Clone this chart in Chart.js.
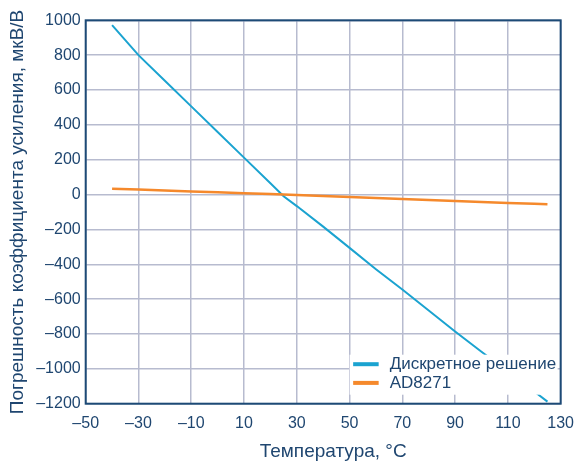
<!DOCTYPE html>
<html>
<head>
<meta charset="utf-8">
<script src="https://cdn.jsdelivr.net/npm/chart.js@4/dist/chart.umd.min.js"></script>
<style>
  html, body { margin: 0; padding: 0; background: #ffffff; }
  #wrap { width: 584px; height: 462px; }
</style>
</head>
<body>
<div id="wrap"><canvas id="chart" width="584" height="462"></canvas></div>
<script>
// Temperature points, °C
const temperatures = [-40, -30, -20, -10, 0, 10, 20, 25, 30, 40, 50, 60, 70, 80, 90, 100, 110, 120, 125];
// Gain error, µV/V
const discreteError = [972, 800, 653, 506, 359, 212, 65, -10, -66, -184, -306, -428, -545, -665, -786, -902, -1015, -1130, -1188];
const ad8271Error   = [34, 29, 24, 18, 13, 8, 3, 0, -3, -8, -14, -20, -25, -31, -37, -42, -48, -53, -55];

const seriesNames = ['Дискретное решение', 'AD8271'];
const xTickValues = [-50, -30, -10, 10, 30, 50, 70, 90, 110, 130];
const yTickValues = [-1200, -1000, -800, -600, -400, -200, 0, 200, 400, 600, 800, 1000];
const xTitle = 'Температура, °C';
const yTitle = 'Погрешность коэффициента усиления, мкВ/В';

const BLUE = '#1ba3d0';
const ORANGE = '#f5892c';
const NAVY = '#1d4a76';
const TEXT = '#1f4670';
const GRID = '#b7bbcf';
const FONT = "'Liberation Sans', Arial, sans-serif";

const toPoints = (vals) => temperatures.map((t, i) => ({ x: t, y: vals[i] }));
const fmt = (v) => (v < 0 ? '\u2013' + Math.abs(v) : String(v));

// Legend inside the plot area over a white box, frame around the plot, x-axis caption
const decorations = {
  id: 'decorations',
  afterDatasetsDraw(chart) {
    const { ctx, chartArea: a } = chart;
    const boxW = 208, boxH = 40;
    const bx = a.right - 3 - boxW, by = a.bottom - 9 - boxH;
    ctx.save();
    ctx.fillStyle = '#ffffff';
    ctx.fillRect(bx, by, boxW, boxH);
    const colors = [BLUE, ORANGE];
    ctx.font = '17px ' + FONT;
    ctx.textBaseline = 'middle';
    ctx.textAlign = 'left';
    seriesNames.forEach((name, i) => {
      const yy = by + 9.5 + i * 18.7;
      ctx.fillStyle = colors[i];
      ctx.fillRect(bx + 3.5, yy - 2, 25.5, 4);
      ctx.fillStyle = TEXT;
      ctx.fillText(name, bx + 40, yy + 0.5);
    });
    ctx.restore();
  },
  afterDraw(chart) {
    const { ctx, chartArea: a } = chart;
    ctx.save();
    ctx.strokeStyle = NAVY;
    ctx.lineWidth = 2;
    ctx.strokeRect(a.left, a.top, a.right - a.left, a.bottom - a.top);
    ctx.fillStyle = TEXT;
    ctx.font = '19px ' + FONT;
    ctx.textAlign = 'center';
    ctx.textBaseline = 'middle';
    ctx.fillText(xTitle, (a.left + a.right) / 2 + 10, a.bottom + 48.5);
    ctx.restore();
  }
};

new Chart(document.getElementById('chart'), {
  type: 'line',
  data: {
    datasets: [
      {
        label: seriesNames[0],
        data: toPoints(discreteError),
        borderColor: BLUE,
        borderWidth: 2,
        pointRadius: 0,
        tension: 0,
        order: 2
      },
      {
        label: seriesNames[1],
        data: toPoints(ad8271Error),
        borderColor: ORANGE,
        borderWidth: 2.5,
        pointRadius: 0,
        tension: 0,
        order: 1
      }
    ]
  },
  options: {
    responsive: false,
    animation: false,
    devicePixelRatio: 1,
    layout: { padding: { top: 20.3, right: 18.7, left: 0, bottom: 0 } },
    plugins: {
      legend: { display: false },
      tooltip: { enabled: false }
    },
    scales: {
      x: {
        type: 'linear',
        min: -50,
        max: 130,
        afterBuildTicks: (s) => { s.ticks = xTickValues.map((v) => ({ value: v })); },
        afterFit: (s) => { s.height = 58.3; },
        grid: { color: GRID, lineWidth: 1.5, drawTicks: false },
        border: { display: false },
        ticks: {
          color: TEXT,
          font: { family: FONT, size: 16 },
          padding: 10,
          maxRotation: 0,
          autoSkip: false,
          callback: (v) => fmt(v)
        },
        title: { display: false }
      },
      y: {
        type: 'linear',
        min: -1200,
        max: 1000,
        afterBuildTicks: (s) => { s.ticks = yTickValues.map((v) => ({ value: v })); },
        afterFit: (s) => { s.width = 85.7; },
        grid: { color: GRID, lineWidth: 1.5, drawTicks: false },
        border: { display: false },
        ticks: {
          color: TEXT,
          font: { family: FONT, size: 16 },
          padding: 5,
          autoSkip: false,
          callback: (v) => fmt(v)
        },
        title: {
          display: true,
          text: yTitle,
          color: TEXT,
          font: { family: FONT, size: 19, lineHeight: 1.2 },
          padding: { top: 6.5, bottom: 0 }
        }
      }
    }
  },
  plugins: [decorations]
});
</script>
</body>
</html>
